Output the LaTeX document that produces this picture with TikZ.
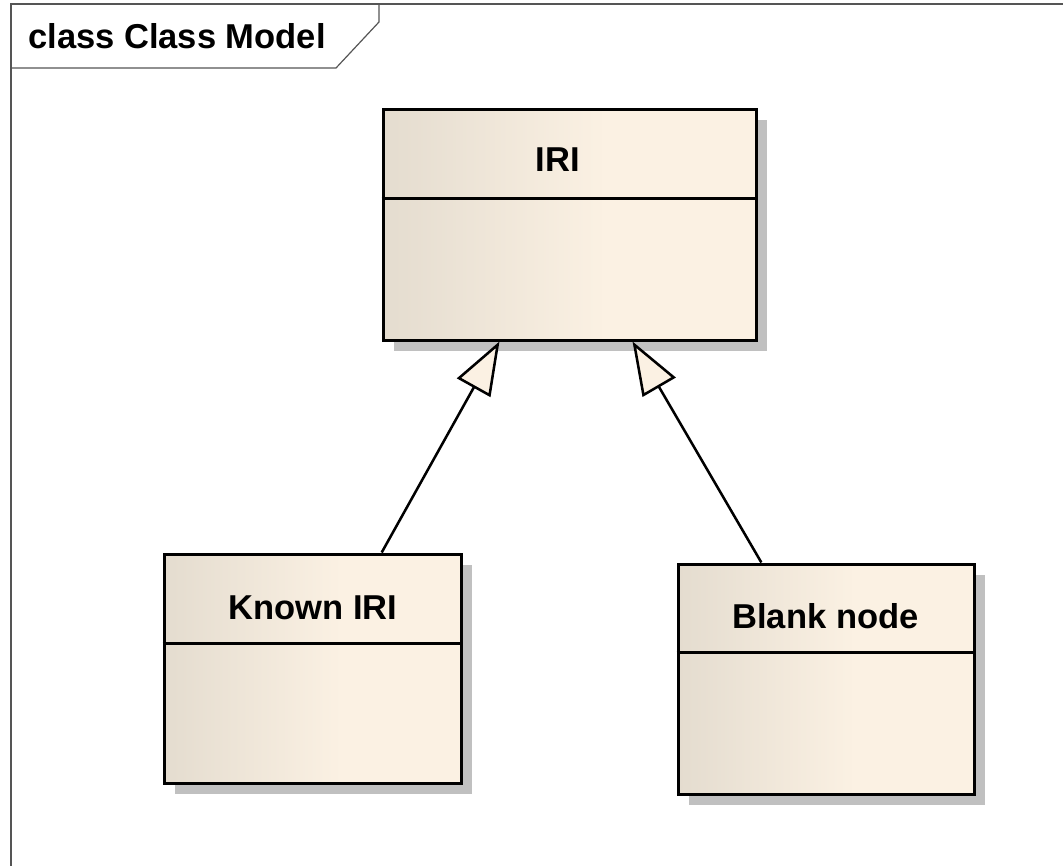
\documentclass[tikz,border=0pt]{standalone}
\usepackage{fontspec}
\setmainfont{Liberation Sans}
\usetikzlibrary{arrows.meta,calc}

\definecolor{classleft}{RGB}{228,220,207}
\definecolor{classright}{RGB}{251,241,227}
\definecolor{shadowgray}{RGB}{192,192,192}
\definecolor{framegray}{RGB}{85,85,85}

% left-to-right fill of the class boxes, flat over the right part
\pgfdeclarehorizontalshading{classfill}{100bp}{color(0bp)=(classleft); color(25bp)=(classleft); color(55bp)=(classright); color(100bp)=(classright)}

\tikzset{
  classbox/.style={rectangle, draw=black, line width=2.25pt, shading=classfill, inner sep=0pt},
  classname/.style={anchor=base, inner sep=0pt, font=\fontsize{25.9pt}{31pt}\selectfont\bfseries},
  divider/.style={draw=black, line width=2.25pt},
  boxshadow/.style={fill=shadowgray},
  gen/.style={draw=black, line width=1.9pt,
    -{Triangle[length=39.75pt, width=28.5pt, fill=classright]}},
  framestroke/.style={draw=framegray, line width=0.9pt}
}

\begin{document}
\begin{tikzpicture}[x=0.75pt, y=-0.75pt]
  \useasboundingbox (0,0) rectangle (1063,866);
  \clip (0,0) rectangle (1063,866);

  % diagram frame and its name tab
  \draw[framestroke] (11,880) -- (11,4) -- (1080,4);
  \draw[framestroke] (11,68) -- (336,68) -- (379,22) -- (379,4);
  \node[anchor=base west, inner sep=0pt, font=\fontsize{25.9pt}{31pt}\selectfont\bfseries]
    (frametitle) at (28,49) {class Class Model};

  % shadows
  \fill[boxshadow] (393.5,120.5) rectangle (767,351);
  \fill[boxshadow] (174.5,564.5) rectangle (472,794);
  \fill[boxshadow] (688.5,574.5) rectangle (985,805);

  % classes
  \node[classbox, minimum width=279.75pt, minimum height=172.5pt] (iri) at (569.5,225) {};
  \node[classbox, minimum width=222.75pt, minimum height=171.75pt] (known) at (312.5,668.5) {};
  \node[classbox, minimum width=222pt, minimum height=172.5pt] (blank) at (826,679) {};

  % compartment separators
  \draw[divider] ($(iri.north west)+(0,90)$) -- ($(iri.north east)+(0,90)$);
  \draw[divider] ($(known.north west)+(0,91)$) -- ($(known.north east)+(0,91)$);
  \draw[divider] ($(blank.north west)+(0,90)$) -- ($(blank.north east)+(0,90)$);

  % class names
  \node[classname] (iriname) at (558,172) {IRI};
  \node[classname] (knownname) at (313,619) {Known IRI};
  \node[classname] (blankname) at (825.5,628) {Blank node};

  % generalizations
  \draw[gen] ($(known.north west)!0.7306!(known.north east)$) -- ($(iri.south west)!0.3137!(iri.south east)$);
  \draw[gen] ($(blank.north west)!0.2838!(blank.north east)$) -- ($(iri.south west)!0.6676!(iri.south east)$);
\end{tikzpicture}
\end{document}
